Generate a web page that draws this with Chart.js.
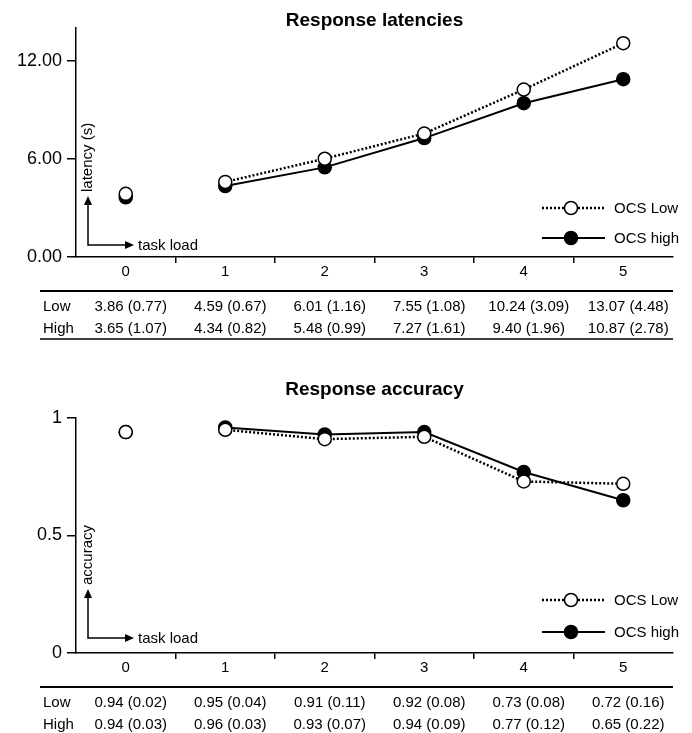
<!DOCTYPE html>
<html>
<head>
<meta charset="utf-8">
<title>Response latencies and accuracy</title>
<script src="https://cdn.jsdelivr.net/npm/chart.js"></script>
<style>
  body { margin: 0; background: #fff; }
  canvas { display: block; }
</style>
</head>
<body>
<canvas id="latencyChart" width="692" height="350"></canvas>
<canvas id="accuracyChart" width="692" height="383"></canvas>
<script>
"use strict"

var task_load = ["0", "1", "2", "3", "4", "5"];

// latency (s), mean and (sd)
var latency_low = [3.86, 4.59, 6.01, 7.55, 10.24, 13.07];
var latency_low_sd = [0.77, 0.67, 1.16, 1.08, 3.09, 4.48];
var latency_high = [3.65, 4.34, 5.48, 7.27, 9.40, 10.87];
var latency_high_sd = [1.07, 0.82, 0.99, 1.61, 1.96, 2.78];
var latency_ticks = [0, 6, 12];

// accuracy, mean and (sd)
var accuracy_low = [0.94, 0.95, 0.91, 0.92, 0.73, 0.72];
var accuracy_low_sd = [0.02, 0.04, 0.11, 0.08, 0.08, 0.16];
var accuracy_high = [0.94, 0.96, 0.93, 0.94, 0.77, 0.65];
var accuracy_high_sd = [0.03, 0.03, 0.07, 0.09, 0.12, 0.22];
var accuracy_ticks = [0, 0.5, 1];

var FONT = '"Liberation Sans", Arial, Helvetica, sans-serif';
Chart.defaults.font.family = FONT;
Chart.defaults.color = "#000";

function arrow_head(ctx, x, y, dir) {
    // dir: "up" or "right", x/y is the tip
    ctx.beginPath();
    if (dir === "up") {
        ctx.moveTo(x, y);
        ctx.lineTo(x - 4, y + 9);
        ctx.lineTo(x + 4, y + 9);
    } else {
        ctx.moveTo(x, y);
        ctx.lineTo(x - 9, y - 4);
        ctx.lineTo(x - 9, y + 4);
    }
    ctx.closePath();
    ctx.fill();
}

// title, corner arrows, legend and the table under the axis
var panel_decor = {
    id: "panel_decor",
    afterDraw: function (chart, args, opts) {
        var ctx = chart.ctx;
        var area = chart.chartArea;
        var xs = chart.scales.x;
        ctx.save();
        ctx.fillStyle = "#000";
        ctx.strokeStyle = "#000";

        ctx.font = "bold 19px " + FONT;
        ctx.textAlign = "center";
        ctx.textBaseline = "middle";
        ctx.fillText(opts.title, (area.left + area.right) / 2, opts.title_y);

        // little axis sketch in the corner
        var cx = area.left + 12, cy = area.bottom - opts.corner_dy;
        ctx.lineWidth = 1.5;
        ctx.beginPath();
        ctx.moveTo(cx, cy - 42);
        ctx.lineTo(cx, cy);
        ctx.lineTo(cx + 38, cy);
        ctx.stroke();
        arrow_head(ctx, cx, cy - 49, "up");
        arrow_head(ctx, cx + 46, cy, "right");

        ctx.font = "15px " + FONT;
        ctx.textAlign = "left";
        ctx.fillText("task load", cx + 50, cy + 1);
        ctx.save();
        ctx.translate(cx, cy - 53);
        ctx.rotate(-Math.PI / 2);
        ctx.fillText(opts.axis_label, 0, 0);
        ctx.restore();

        // legend
        chart.data.datasets.forEach(function (ds, i) {
            var ly = area.bottom - opts.legend_dy[i];
            ctx.save();
            ctx.lineWidth = ds.borderWidth;
            ctx.setLineDash(ds.borderDash || []);
            ctx.beginPath();
            ctx.moveTo(area.right - 131, ly);
            ctx.lineTo(area.right - 68, ly);
            ctx.stroke();
            ctx.restore();
            ctx.beginPath();
            ctx.arc(area.right - 102, ly, ds.pointRadius, 0, Math.PI * 2);
            ctx.fillStyle = ds.pointBackgroundColor;
            ctx.fill();
            ctx.lineWidth = ds.pointBorderWidth;
            ctx.stroke();
            ctx.fillStyle = "#000";
            ctx.fillText(ds.label, area.right - 59, ly + 1);
        });

        // table of means (sd)
        var top_rule = area.bottom + 34;
        ctx.lineWidth = 2;
        ctx.beginPath();
        ctx.moveTo(40, top_rule);
        ctx.lineTo(area.right, top_rule);
        ctx.stroke();

        ctx.font = "15px " + FONT;
        opts.rows.forEach(function (row, r) {
            var ty = area.bottom + 50 + r * 22;
            ctx.textAlign = "left";
            ctx.fillText(row.label, 43, ty);
            ctx.textAlign = "center";
            for (var k = 0; k < row.mean.length; k++) {
                var txt = row.mean[k].toFixed(2) + " (" + row.sd[k].toFixed(2) + ")";
                ctx.fillText(txt, xs.getPixelForValue(k) + 5, ty);
            }
        });

        if (opts.bottom_rule) {
            ctx.lineWidth = 1.5;
            ctx.beginPath();
            ctx.moveTo(40, area.bottom + 82);
            ctx.lineTo(area.right, area.bottom + 82);
            ctx.stroke();
        }
        ctx.restore();
    }
};

function hide_first_segment(ctx) {
    return ctx.p0DataIndex === 0 ? "rgba(0,0,0,0)" : undefined;
}

function make_datasets(low, high) {
    return [
        {
            label: "OCS Low",
            data: low,
            borderColor: "#000",
            borderWidth: 2.5,
            borderDash: [2, 2],
            pointRadius: 6.5,
            pointHoverRadius: 6.5,
            pointBorderWidth: 1.5,
            pointBorderColor: "#000",
            pointBackgroundColor: "#fff",
            segment: { borderColor: hide_first_segment },
            tension: 0
        },
        {
            label: "OCS high",
            data: high,
            borderColor: "#000",
            borderWidth: 2,
            pointRadius: 6.5,
            pointHoverRadius: 6.5,
            pointBorderWidth: 1.5,
            pointBorderColor: "#000",
            pointBackgroundColor: "#000",
            segment: { borderColor: hide_first_segment },
            tension: 0
        }
    ];
}

function make_options(y_min, y_max, y_ticks, tick_fmt, pad_top, pad_bottom, decor) {
    return {
        responsive: false,
        animation: false,
        events: [],
        layout: { padding: { left: 0, right: 19, top: pad_top, bottom: pad_bottom } },
        plugins: {
            legend: { display: false },
            title: { display: false },
            tooltip: { enabled: false },
            panel_decor: decor
        },
        scales: {
            x: {
                type: "category",
                offset: true,
                grid: {
                    offset: true,
                    drawOnChartArea: false,
                    tickLength: 6,
                    lineWidth: 1.5,
                    color: function (c) {
                        return (c.type !== "tick" || c.index === 0) ? "rgba(0,0,0,0)" : "#000";
                    }
                },
                border: { color: "#000", width: 1.5 },
                ticks: { font: { size: 15 }, padding: 0, color: "#000" },
                afterFit: function (scale) { scale.height = 30; }
            },
            y: {
                min: y_min,
                max: y_max,
                grid: { drawOnChartArea: false, tickLength: 9, lineWidth: 1.5, color: "#000" },
                border: { color: "#000", width: 1.5 },
                ticks: { font: { size: 18 }, padding: 5, color: "#000", callback: tick_fmt },
                afterBuildTicks: function (scale) {
                    scale.ticks = y_ticks.map(function (v) { return { value: v }; });
                },
                afterFit: function (scale) { scale.width = 76; }
            }
        }
    };
}

new Chart(document.getElementById("latencyChart").getContext("2d"), {
    type: "line",
    data: { labels: task_load, datasets: make_datasets(latency_low, latency_high) },
    options: make_options(0, 14, latency_ticks,
        function (v) { return Number(v).toFixed(2); }, 28, 63, {
            title: "Response latencies",
            title_y: 21,
            axis_label: "latency (s)",
            corner_dy: 12,
            legend_dy: [49, 19],
            rows: [
                { label: "Low", mean: latency_low, sd: latency_low_sd },
                { label: "High", mean: latency_high, sd: latency_high_sd }
            ],
            bottom_rule: true
        }),
    plugins: [panel_decor]
});

new Chart(document.getElementById("accuracyChart").getContext("2d"), {
    type: "line",
    data: { labels: task_load, datasets: make_datasets(accuracy_low, accuracy_high) },
    options: make_options(0, 1, accuracy_ticks,
        function (v) { return String(v); }, 68, 50, {
            title: "Response accuracy",
            title_y: 40,
            axis_label: "accuracy",
            corner_dy: 15,
            legend_dy: [53, 21],
            rows: [
                { label: "Low", mean: accuracy_low, sd: accuracy_low_sd },
                { label: "High", mean: accuracy_high, sd: accuracy_high_sd }
            ],
            bottom_rule: false
        }),
    plugins: [panel_decor]
});
</script>
</body>
</html>
